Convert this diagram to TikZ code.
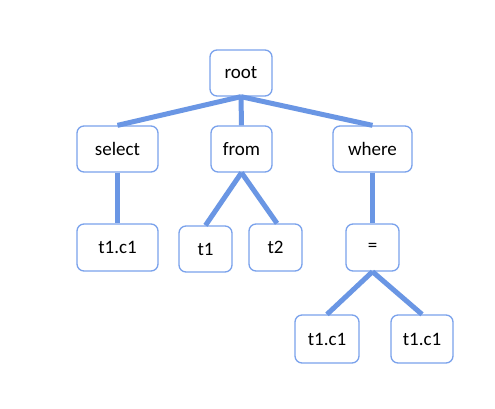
\documentclass[tikz,border=0pt]{standalone}
\usepackage{fontspec}
\setmainfont{Carlito}
\definecolor{boxline}{HTML}{7AA2EC}
\definecolor{edgeline}{HTML}{6A96E4}
\begin{document}
\begin{tikzpicture}[x=1pt,y=-1pt,
  tbox/.style={draw=boxline, line width=1.3pt, fill=white, rounded corners=7pt, font=\fontsize{19}{22}\selectfont, text=black, inner sep=0pt},
  edge/.style={draw=edgeline, line width=5pt}]
\fill[white] (0,0) rectangle (495,408);
\useasboundingbox (0,0) rectangle (495,408);
\node[tbox, minimum width=62pt, minimum height=46pt] (root) at (241,73) {root};
\node[tbox, minimum width=81pt, minimum height=46pt] (select) at (117.5,149) {select};
\node[tbox, minimum width=61pt, minimum height=46pt] (from) at (241.5,149) {from};
\node[tbox, minimum width=79pt, minimum height=46pt] (where) at (372.5,149) {where};
\node[tbox, minimum width=81pt, minimum height=47pt] (c1) at (117.5,247.5) {t1.c1};
\node[tbox, minimum width=53pt, minimum height=46pt] (t1) at (205.5,249) {t1};
\node[tbox, minimum width=53pt, minimum height=47pt] (t2) at (275.5,247.5) {t2};
\node[tbox, minimum width=53pt, minimum height=47pt] (eq) at (372.5,247.5) {=};
\node[tbox, minimum width=64pt, minimum height=48pt] (bl) at (327,339) {t1.c1};
\node[tbox, minimum width=62pt, minimum height=48pt] (br) at (422,339) {t1.c1};
\begin{scope}
\draw[edge] (root.south) -- (select.north);
\draw[edge] (root.south) -- (from.north);
\draw[edge] (root.south) -- (where.north);
\draw[edge] (select.south) -- (c1.north);
\draw[edge] (from.south) -- (t1.north);
\draw[edge] (from.south) -- ([xshift=1.5pt]t2.north);
\draw[edge] (where.south) -- (eq.north);
\draw[edge] (eq.south) -- (bl.north);
\draw[edge] (eq.south) -- (br.north);
\end{scope}
\end{tikzpicture}
\end{document}
